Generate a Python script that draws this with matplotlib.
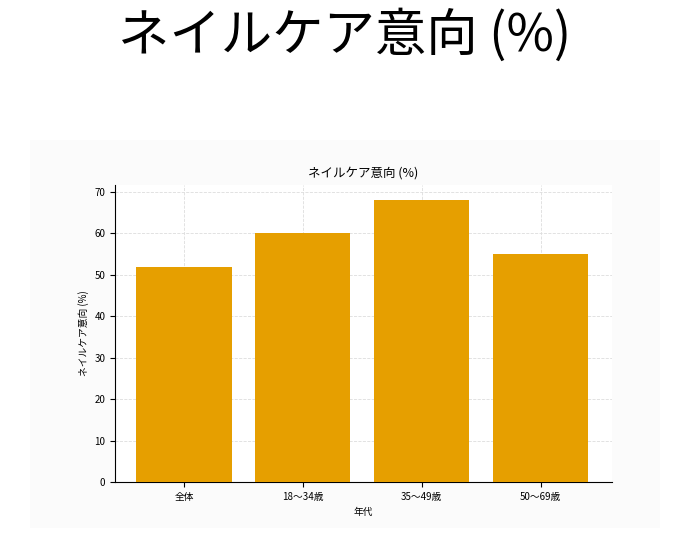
import matplotlib
matplotlib.use("Agg")
import matplotlib.pyplot as plt
from matplotlib.patches import Rectangle

plt.rcParams['font.family'] = ['Noto Sans CJK JP', 'DejaVu Sans']

categories = ["全体", "18〜34歳", "35〜49歳", "50〜69歳"]
values = [52, 60, 68, 55]

fig = plt.figure(figsize=(6.9, 5.38), dpi=100)
fig.patches.append(Rectangle((30/690, 1-528/538), 630/690, 388/538,
                             transform=fig.transFigure, facecolor="#fbfbfb",
                             edgecolor="none", zorder=-10))
fig.text(0.5, 1-36/538, "ネイルケア意向 (%)", ha="center", va="center", fontsize=37)

ax = fig.add_axes([115/690, 1-482/538, 497/690, 297/538], zorder=5)
ax.set_facecolor("white")
x = range(len(categories))
ax.bar(x, values, width=0.8, color="#E69F00", zorder=3)
ax.set_xticks(list(x))
ax.set_xticklabels(categories, fontsize=7)
ax.set_xlim(-0.58, 3.6)
ax.set_ylim(0, 71.7)
ax.set_yticks(range(0, 71, 10))
ax.tick_params(axis='y', labelsize=7)
ax.set_title("ネイルケア意向 (%)", fontsize=9)
ax.set_xlabel("年代", fontsize=7)
ax.set_ylabel("ネイルケア意向 (%)", fontsize=7)
ax.grid(True, linestyle="--", color="#dddddd", linewidth=0.6, zorder=0)
for s in ["top", "right"]:
    ax.spines[s].set_visible(False)

fig.savefig("out.png", dpi=100)
